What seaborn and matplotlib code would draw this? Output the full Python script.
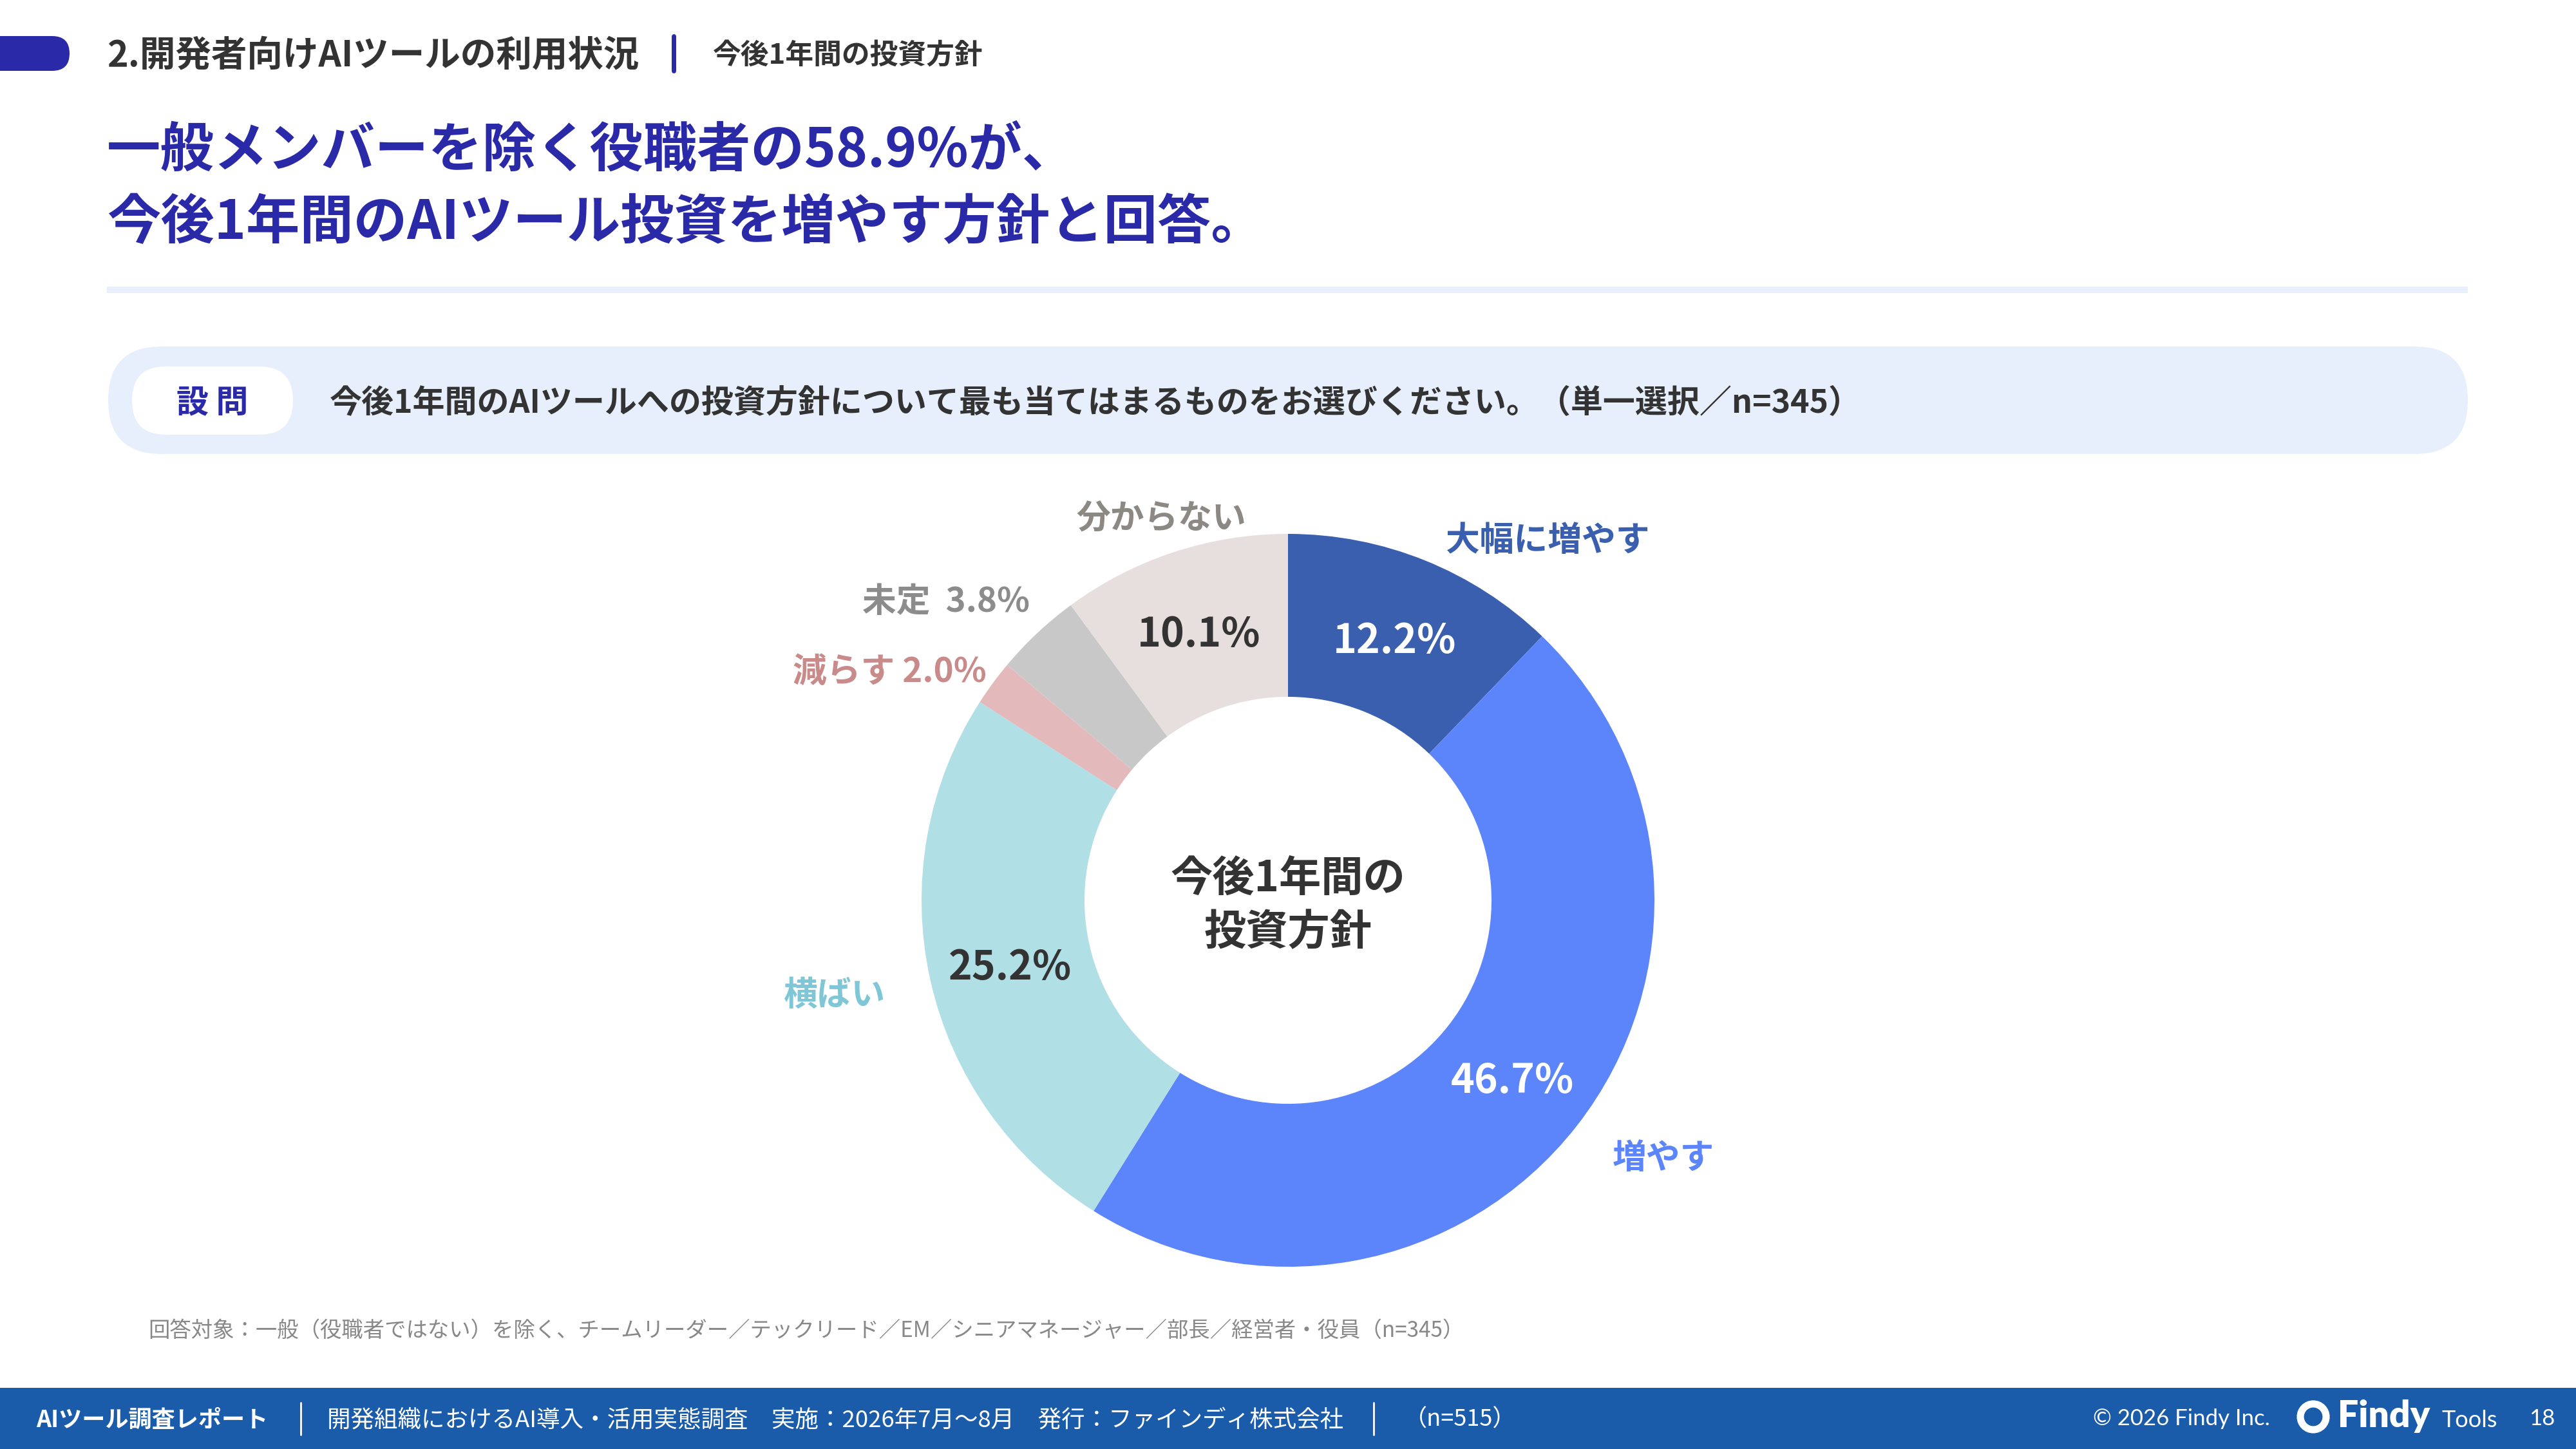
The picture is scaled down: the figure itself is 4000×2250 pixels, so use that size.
import numpy as np
import matplotlib
matplotlib.use("Agg")
import matplotlib.pyplot as plt
import seaborn as sns
from matplotlib.patches import FancyBboxPatch, Rectangle, Circle

sns.set_theme(style="white")
plt.rcParams['font.family'] = ['Noto Sans CJK JP', 'DejaVu Sans']

# data
categories = ['大幅に増やす', '増やす', '横ばい', '減らす', '未定', '分からない']
values = [12.2, 46.7, 25.2, 2.0, 3.8, 10.1]
slice_colors = ['#3A5FAE', '#5C85FC', '#B0DFE6', '#E3B9BB', '#C8C8C8', '#E7DFDD']
label_colors = ['#3A5FAE', '#5C85FC', '#7FC7D6', '#C98A8A', '#8C8C8C', '#8C8884']
pct_colors = ['white', 'white', '#333333', None, None, '#333333']
# small slices carry their percentage in the outside label
outside_sep = [None, None, None, ' ', '  ', None]

# outside label placement (radius px, angle nudge deg)
label_r = [695, 703, 718, 717, 710, 632]
label_nudge = [13.5, -4, 1.4, -6, -5.2, 0]
dy_txt = -8

W, H = 4000, 2250
fig = plt.figure(figsize=(40, 22.5), dpi=100)
bg = fig.add_axes([0, 0, 1, 1])
bg.set_xlim(0, W)
bg.set_ylim(H, 0)
bg.axis('off')

navy = '#2A2AA8'
dark = '#333333'

# header
bg.add_patch(FancyBboxPatch((-60, 56), 168, 54, boxstyle="round,pad=0,rounding_size=27",
                            fc=navy, ec='none'))
bg.text(166, 86, '2.開発者向けAIツールの利用状況', fontsize=40, fontweight='bold',
        color=dark, va='center', ha='left')
bg.plot([1046, 1046], [56, 110], color=navy, lw=5)
bg.text(1107, 86, '今後1年間の投資方針', fontsize=31.5, fontweight='bold',
        color=dark, va='center', ha='left')

# title
bg.text(166, 234, '一般メンバーを除く役職者の58.9%が、', fontsize=60, fontweight='bold',
        color=navy, va='center', ha='left')
bg.text(166, 347, '今後1年間のAIツール投資を増やす方針と回答。', fontsize=60, fontweight='bold',
        color=navy, va='center', ha='left')
bg.add_patch(Rectangle((166, 445), 3666, 10, fc='#E8EFFC', ec='none'))

# question box
bg.add_patch(FancyBboxPatch((168, 538), 3664, 167, boxstyle="round,pad=0,rounding_size=83",
                            fc='#E8EFFC', ec='none'))
bg.add_patch(FancyBboxPatch((205, 569), 250, 106, boxstyle="round,pad=0,rounding_size=53",
                            fc='white', ec='none'))
bg.text(330, 626, '設 問', fontsize=36, fontweight='bold', color=navy, va='center', ha='center')
bg.text(512, 626, '今後1年間のAIツールへの投資方針について最も当てはまるものをお選びください。（単一選択／n=345）',
        fontsize=36, fontweight='bold', color=dark, va='center', ha='left')

# donut
cx, cy, R, r_in = 2000, 1398, 569, 316
pax = fig.add_axes([(cx - 750) / W, 1 - (cy + 750) / H, 1500 / W, 1500 / H])
pax.pie(values, colors=sns.color_palette(slice_colors), radius=R, startangle=90,
        counterclock=False, wedgeprops=dict(width=R - r_in, linewidth=0))
pax.set_xlim(-750, 750)
pax.set_ylim(-750, 750)
pax.set_aspect('equal')
pax.axis('off')

cum = np.cumsum([0] + values[:-1])
mid_deg = (cum + np.array(values) / 2) / 100 * 360
r_mid = (R + r_in) / 2
for i, cat in enumerate(categories):
    th = np.radians(mid_deg[i])
    if pct_colors[i] is not None:
        pax.text(r_mid * np.sin(th), r_mid * np.cos(th) + dy_txt, f'{values[i]:.1f}%',
                 fontsize=45, fontweight='bold', color=pct_colors[i], ha='center', va='center')
    tl = np.radians(mid_deg[i] + label_nudge[i])
    txt = cat if outside_sep[i] is None else f'{cat}{outside_sep[i]}{values[i]:.1f}%'
    pax.text(label_r[i] * np.sin(tl), label_r[i] * np.cos(tl) + dy_txt, txt, fontsize=38,
             fontweight='bold', color=label_colors[i], ha='center', va='center')

pax.text(0, dy_txt, '今後1年間の\n投資方針', fontsize=47, fontweight='bold', color=dark,
         ha='center', va='center', linespacing=1.3)

# footnote
bg.text(230, 2066, '回答対象：一般（役職者ではない）を除く、チームリーダー／テックリード／EM／シニアマネージャー／部長／経営者・役員（n=345）',
        fontsize=24, color='#888888', va='center', ha='left')

# footer
bg.add_patch(Rectangle((0, 2155), W, 95, fc='#1A5BAA', ec='none'))
bg.text(56, 2205, 'AIツール調査レポート', fontsize=26, fontweight='bold', color='white',
        va='center', ha='left')
bg.plot([467, 467], [2178, 2228], color='white', lw=2)
bg.text(508, 2205, '開発組織におけるAI導入・活用実態調査　実施：2026年7月〜8月　発行：ファインディ株式会社',
        fontsize=26.3, color='white', va='center', ha='left')
bg.plot([2133, 2133], [2178, 2228], color='white', lw=2)
bg.text(2180, 2205, '（n=515）', fontsize=26, color='white', va='center', ha='left')
bg.text(3250, 2203, '© 2026 Findy Inc.', fontsize=25, color='white', va='center', ha='left',
        family=['Lato', 'DejaVu Sans'])
bg.add_patch(Circle((3592, 2200), 20, fc='none', ec='white', lw=8))
bg.text(3630, 2199, 'Findy', fontsize=41, fontweight='heavy', color='white', va='center',
        ha='left', family=['Lato', 'DejaVu Sans'])
bg.text(3792, 2206, 'Tools', fontsize=26, color='white', va='center', ha='left',
        family=['Lato', 'DejaVu Sans'])
bg.text(3927, 2203, '18', fontsize=25, color='white', va='center', ha='left',
        family=['Lato', 'DejaVu Sans'])

fig.savefig('out.png', dpi=100, facecolor='white')
